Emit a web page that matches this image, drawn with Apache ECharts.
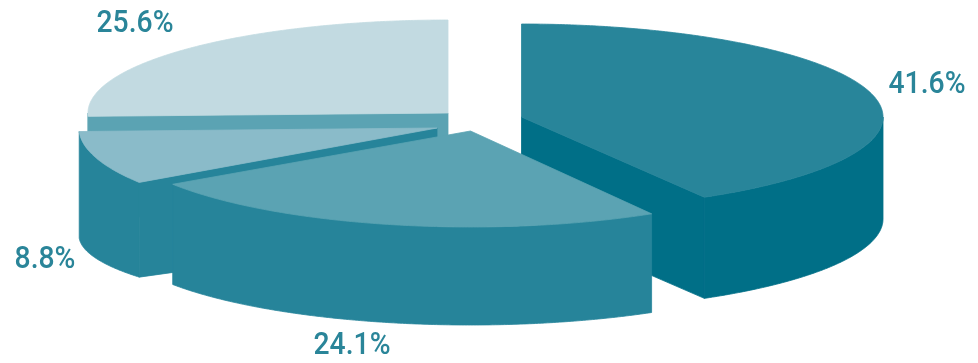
<!DOCTYPE html>
<html>
<head>
<meta charset="utf-8">
<style>html,body{margin:0;padding:0;background:#fff}#chart{width:978px;height:363px}</style>
<script src="https://cdn.jsdelivr.net/npm/echarts@6/dist/echarts.min.js"></script>
</head>
<body>
<div id="chart"></div>
<script>
// Slice shares, in percent, clockwise from twelve o'clock
const shares = [41.6, 24.1, 8.8, 25.6];

// Slice colours
const topColors  = ['#28859A', '#5BA3B3', '#8ABBC9', '#C2DAE1'];
const sideColors = ['#006F87', '#26849A', '#26849A', '#5BA3B3'];
const labelColor = '#2A8599';

// Tilted-pie geometry, slice by slice: the perspective differs a little across the pie
const radiiX = [361.5, 358, 358, 360];
const radiiY = [93, 96, 98, 93];
const floorRadiiY = [92, 91, 75, 93];
const depths = [102, 103, 107.5, 101];
// Where each pulled-out slice has its apex
const apexes = [[521.5, 117], [470.5, 131], [437, 128], [448, 113]];
// Painter's order, back to front
const paintRank = [2, 3, 1, 0];
// Label centres
const labelSpots = [[927, 85], [352, 346], [45, 260], [135, 24]];

const total = shares.reduce((a, b) => a + b, 0);
const rad = d => d * Math.PI / 180;

function rimPoint(i, deg, floor) {
  const ry = floor ? floorRadiiY[i] : radiiY[i];
  const drop = floor ? depths[i] : 0;
  return [apexes[i][0] + radiiX[i] * Math.sin(rad(deg)),
          apexes[i][1] - ry * Math.cos(rad(deg)) + drop];
}
function arc(i, from, to, floor) {
  const pts = [];
  const steps = Math.max(2, Math.ceil(Math.abs(to - from) * 2));
  for (let s = 0; s <= steps; s++) pts.push(rimPoint(i, from + (to - from) * s / steps, floor));
  return pts;
}
function poly(points, fill, z2) {
  return { type: 'polygon', z2, shape: { points },
           style: { fill, stroke: fill, lineWidth: 0.8 }, silent: true };
}

function renderSlice(params, api) {
  const i = api.value(0);
  const share = api.value(1);
  const start = shares.slice(0, i).reduce((a, b) => a + b, 0) / total * 360;
  const end = start + share / total * 360;
  const apex = apexes[i];
  const rank = paintRank[i] * 10;
  const children = [];
  const side = sideColors[i];

  // Flat cut faces that turn towards the viewer
  [[start, -1], [end, 1]].forEach(([deg, dir]) => {
    if (dir * Math.sin(rad(deg)) > 1e-6) {
      children.push(poly([apex, rimPoint(i, deg, false), rimPoint(i, deg, true),
                          [apex[0], apex[1] + depths[i]]], side, rank + 1));
    }
  });

  // Curved outer wall, front half of the rim only
  const wallFrom = Math.max(start, 90);
  const wallTo = Math.min(end, 270);
  if (wallTo > wallFrom) {
    children.push(poly(arc(i, wallFrom, wallTo, false).concat(arc(i, wallTo, wallFrom, true)), side, rank + 2));
  }

  // Top surface
  children.push(poly([apex].concat(arc(i, start, end, false)), topColors[i], rank + 3));

  // Percentage label, squeezed sideways for a condensed look
  children.push({
    type: 'text', z2: 100, silent: true,
    x: labelSpots[i][0], y: labelSpots[i][1],
    scaleX: 0.885,
    style: {
      x: 0, y: 0,
      text: share.toFixed(1) + '%',
      align: 'center', verticalAlign: 'middle',
      font: '500 32px Roboto, sans-serif',
      fill: labelColor
    }
  });
  return { type: 'group', children };
}

const chart = echarts.init(document.getElementById('chart'), null, { renderer: 'canvas' });
chart.setOption({
  animation: false,
  backgroundColor: '#ffffff',
  series: [{
    type: 'custom',
    coordinateSystem: 'none',
    renderItem: renderSlice,
    encode: { value: 1 },
    data: shares.map((v, i) => [i, v])
  }]
});
</script>
</body>
</html>
